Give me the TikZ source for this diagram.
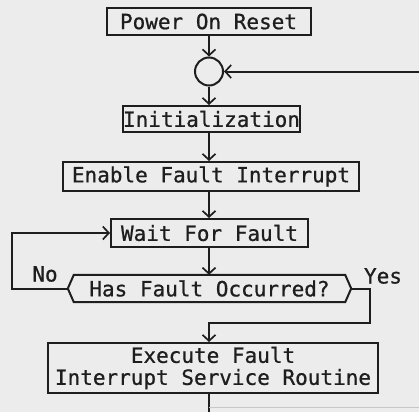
\documentclass[tikz,border=0pt]{standalone}
\usepackage{fontspec}
\newfontfamily\chartfont[FakeBold=0.8]{DejaVu Sans Mono}
\usetikzlibrary{arrows.meta}
\definecolor{paper}{RGB}{236,236,236}
\definecolor{ink}{RGB}{30,30,30}
\tikzset{
  every picture/.style={x=1pt,y=-1pt},
  chart/.style={line width=2pt, draw=ink},
  flowbox/.style={chart, rectangle, inner sep=0pt, font=\chartfont\fontsize{21}{24}\selectfont, text=ink},
  flowlabel/.style={inner sep=0pt, font=\chartfont\fontsize{21}{24}\selectfont, text=ink},
  link/.style={chart, -{Straight Barb[length=6pt,width=13pt,line width=1.7pt]}},
  plain/.style={chart},
}
\begin{document}
\begin{tikzpicture}
  \fill[paper] (0,0) rectangle (419,412);
  \useasboundingbox (0,0) rectangle (419,412);

  % main vertical axis of the chart
  \coordinate (axis) at (209,0);

  \node[flowbox, minimum width=204pt, minimum height=27pt] (por) at (208.5,21.5) {Power On Reset};
  \node[chart, circle, minimum size=28pt, inner sep=0pt] (join) at (209,71.5) {};
  \node[flowbox, minimum width=151pt, minimum height=26pt] (init) at (211.5,119) {Initialization};
  \node[flowbox, minimum width=296pt, minimum height=29pt] (enable) at (211,176.5) {Enable Fault Interrupt};
  \node[flowbox, minimum width=197pt, minimum height=28pt] (wait) at (209.5,233) {Wait For Fault};

  % decision: text box with pointed ends
  \node[flowlabel, minimum width=271pt, minimum height=27pt] (dec) at (209.5,288.5) {Has Fault Occurred?};
  \coordinate (decL) at ([xshift=-6pt]dec.west);
  \coordinate (decR) at ([xshift=6pt]dec.east);
  \draw[plain, line join=miter] (dec.north west) -- (dec.north east) -- (decR) -- (dec.south east)
        -- (dec.south west) -- (decL) -- cycle;

  \node[flowbox, minimum width=330pt, minimum height=50pt, align=center] (exec) at (213,368)
       {Execute Fault\\[-2pt]Interrupt Service Routine};

  \node[flowlabel] (no) at (45,274) {No};
  \node[flowlabel] (yes) at (383,276) {Yes};

  % bends of the branches and the return path
  \coordinate (nox) at (12,0);
  \coordinate (yesturn) at (370,323);
  \coordinate (retin) at (419,71.5);
  \coordinate (retout) at (209,412);
  \coordinate (faintL) at (209,407);
  \coordinate (faintR) at (419,407);

  \draw[link] (axis |- por.south) -- (join);
  \draw[link] (join) -- (axis |- init.north);
  \draw[link] (axis |- init.south) -- (axis |- enable.north);
  \draw[link] (axis |- enable.south) -- (axis |- wait.north);
  \draw[link] (axis |- wait.south) -- (axis |- dec.north);
  \draw[link] (decL) -- (decL -| nox) -- (nox |- wait.west) -- (wait.west);
  \draw[link] (decR) -- (decR -| yesturn) -- (yesturn) -- (axis |- yesturn) -- (axis |- exec.north);
  \draw[plain] (axis |- exec.south) -- (retout);
  \draw[link] (retin) -- (join);
  \draw[line width=1pt, draw=ink!25] (faintL) -- (faintR);
\end{tikzpicture}
\end{document}
